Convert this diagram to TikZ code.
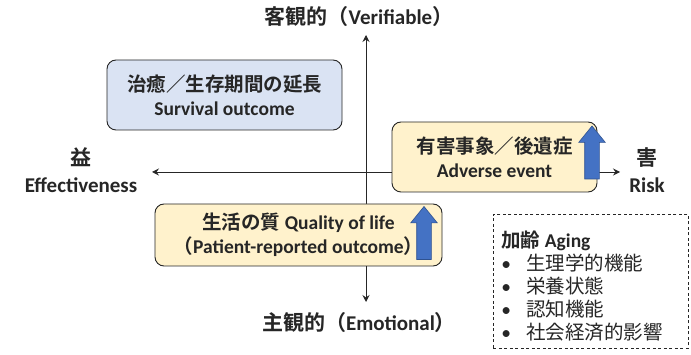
\documentclass[tikz,border=0pt]{standalone}
\usepackage{fontspec}
\setmainfont{Carlito}
\newfontfamily\jp{Noto Sans CJK JP}[BoldFont={Noto Sans CJK JP Bold}]
\usetikzlibrary{arrows.meta,positioning,shapes.arrows}
\definecolor{ink}{HTML}{262626}
\definecolor{boxblue}{HTML}{DAE3F3}
\definecolor{boxyellow}{HTML}{FFF2CC}
\definecolor{arrowblue}{HTML}{4472C4}
\definecolor{arrowedge}{HTML}{2F528F}

\begin{document}
\begin{tikzpicture}[x=1pt,y=-1pt,
	every node/.style={text=ink, font=\bfseries\fontsize{21}{27}\selectfont, align=center},
	axis/.style={{Stealth[length=7pt,width=7pt,inset=2.5pt]}-{Stealth[length=7pt,width=7pt,inset=2.5pt]}, line width=0.9pt, draw=ink},
	quad/.style={draw=ink, line width=0.9pt, rounded corners=9pt, inner sep=0pt, font=\bfseries\fontsize{19.5}{24}\selectfont},
	rise/.style={single arrow, draw=arrowedge, fill=arrowblue, line width=0.6pt, shape border rotate=90, inner sep=7pt, minimum width=26pt, single arrow head extend=6pt, single arrow tip angle=78, minimum height=53pt}]
\useasboundingbox (0,0) rectangle (691,355);

% axes
\coordinate (top) at (366,35);
\coordinate (bottom) at (366,302);
\coordinate (left) at (152,172);
\coordinate (right) at (620,172);
\draw[axis] (top) -- (bottom);
\draw[axis] (left) -- (right);

% axis labels
\node (verif) at (359,17) {{\jp 客観的（}Verifiable{\jp ）}};
\node (emot)  at (359,323) {{\jp 主観的（}Emotional{\jp ）}};
\node (eff)   at (81,170) {{\jp 益}\\Effectiveness};
\node (risk)  at (647,170) {{\jp 害}\\Risk};

% outcome boxes
\node[quad, fill=boxblue, minimum width=235pt, minimum height=70pt] (survival) at (224.5,95)
	{{\jp 治癒／生存期間の延長}\\Survival outcome};
\node[quad, fill=boxyellow, minimum width=205pt, minimum height=70pt] (adverse) at (494.5,157)
	{{\jp 有害事象／後遺症}\\Adverse event};
\node[quad, fill=boxyellow, minimum width=287pt, minimum height=62pt] (qol) at (298.5,235)
	{{\jp 生活の質} Quality of life\\{\jp （}Patient-reported outcome{\jp ）}};

% increase arrows
\node[rise] (adverse up) at (592,157) {};
\node[rise] (qol up) at (424,237.5) {};

% aging factors
\node[draw=ink, line width=0.8pt, dash pattern=on 3pt off 2.5pt, anchor=north west,
	minimum width=195pt, minimum height=134pt, text width=179pt, inner xsep=8pt, align=left,
	font=\fontsize{19.5}{23}\selectfont] (aging) at (493,214)
	{\rule{0pt}{26pt}\textbf{{\jp\bfseries 加齢}\hspace{-2pt} Aging}\\
	\makebox[25pt][l]{•}{\jp 生理学的機能}\\
	\makebox[25pt][l]{•}{\jp 栄養状態}\\
	\makebox[25pt][l]{•}{\jp 認知機能}\\
	\makebox[25pt][l]{•}{\jp 社会経済的影響}};
\end{tikzpicture}
\end{document}
